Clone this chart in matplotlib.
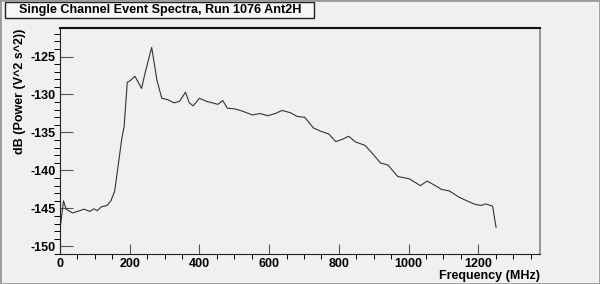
import matplotlib.pyplot as plt
from matplotlib.patches import Rectangle
from matplotlib.ticker import MultipleLocator

plt.rcParams['axes.unicode_minus'] = False

# spectrum
freq = [0, 10, 17.5, 36, 69, 86, 97, 107, 118, 135, 146, 157, 177, 184, 193,
        201, 215, 234, 245, 263, 278, 292, 310, 327, 343, 360, 371, 382, 400,
        420, 437, 453, 467, 480, 502, 524, 552, 574, 596, 618, 637, 661, 681,
        702, 727, 749, 771, 791, 810, 828, 848, 875, 897, 919, 941, 969, 1002,
        1034, 1053, 1073, 1095, 1117, 1144, 1172, 1193, 1210, 1221, 1241, 1251]
power_db = [-147.8, -144.0, -145.1, -145.6, -145.1, -145.4, -145.05, -145.3,
            -144.8, -144.6, -144.0, -142.7, -135.9, -134.2, -128.4, -128.2,
            -127.6, -129.2, -127.0, -123.8, -128.1, -130.5, -130.7, -131.1,
            -130.9, -129.7, -131.1, -131.5, -130.5, -130.9, -131.1, -131.3,
            -130.8, -131.8, -131.9, -132.2, -132.7, -132.5, -132.8, -132.5,
            -132.1, -132.4, -132.9, -133.0, -134.4, -134.85, -135.2, -136.2,
            -135.9, -135.5, -136.25, -136.7, -137.8, -139.0, -139.3, -140.8,
            -141.1, -142.0, -141.4, -141.9, -142.5, -142.7, -143.5, -144.1,
            -144.5, -144.6, -144.4, -144.7, -147.5]

title = "Single Channel Event Spectra, Run 1076 Ant2H"
bg = '#f0f0f0'

fig = plt.figure(figsize=(6, 2.84), dpi=100, facecolor=bg)
ax = fig.add_axes([0.1, 0.1056, 0.8, 0.7944], facecolor=bg)

ax.plot(freq, power_db, color='#333333', lw=0.8)
ax.set_xlim(0, 1377)
ax.set_ylim(-151, -121.3)

ax.xaxis.set_major_locator(MultipleLocator(200))
ax.xaxis.set_minor_locator(MultipleLocator(50))
ax.yaxis.set_major_locator(MultipleLocator(5))
ax.yaxis.set_minor_locator(MultipleLocator(1))
ax.tick_params(direction='in', labelsize=9, width=0.8, color='#555555', pad=3)
ax.tick_params(axis='y', which='major', length=9)
ax.tick_params(axis='y', which='minor', length=4.5, width=0.7)
ax.tick_params(axis='x', which='major', length=7)
ax.tick_params(axis='x', which='minor', length=3.5, width=0.7)
for lab in ax.get_xticklabels() + ax.get_yticklabels():
    lab.set_fontweight('bold')
    lab.set_fontfamily('Liberation Sans')

for s in ['left', 'bottom']:
    ax.spines[s].set_color('#222222')
    ax.spines[s].set_linewidth(0.8)
ax.spines['top'].set_color('#111111')
ax.spines['top'].set_linewidth(1.5)
ax.spines['right'].set_color('#888888')
ax.spines['right'].set_linewidth(1.2)

ax.set_xlabel("Frequency (MHz)", fontsize=9, fontweight='bold',
              family='Liberation Sans', loc='right', labelpad=0)
ax.set_ylabel("dB (Power (V^2 s^2))", fontsize=9, fontweight='bold',
              family='Liberation Sans', loc='top', labelpad=3)

# title box, ROOT style
fig.patches.append(Rectangle((5.4 / 600, 1 - 17.5 / 284), 308.6 / 600, 15.8 / 284,
                             transform=fig.transFigure, facecolor='#f7f7f7',
                             edgecolor='#222222', lw=1))
fig.text(19 / 600, 1 - 9.6 / 284, title, fontsize=9.1, fontweight='bold',
         family='Liberation Sans', va='center', ha='left')

# canvas bevel
fig.patches.append(Rectangle((0, 0), 1, 1, transform=fig.transFigure,
                             fill=False, edgecolor='#9a9a9a', lw=2))

fig.savefig('out.png', dpi=100, facecolor=bg)
